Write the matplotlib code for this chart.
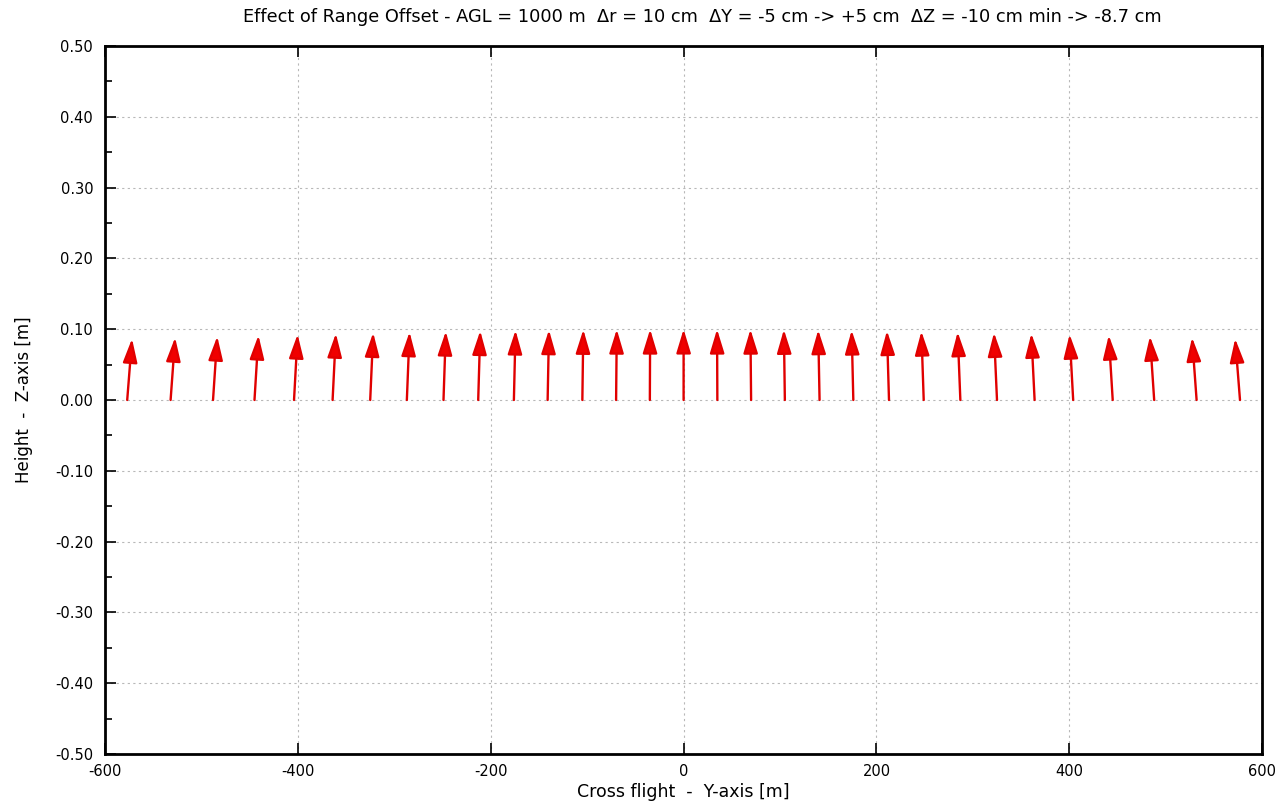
import matplotlib
matplotlib.use("Agg")
import matplotlib.pyplot as plt
from matplotlib.patches import FancyArrowPatch
from matplotlib.ticker import MultipleLocator

plt.rcParams['font.family'] = ['DejaVu Sans']
plt.rcParams['axes.unicode_minus'] = False

# Ground positions of the arrows (cross-flight, m)
y_pos = [-577, -532, -488, -445, -404, -364, -325, -287, -249, -213, -176, -141, -105, -70, -35, 0,
         35, 70, 105, 141, 176, 213, 249, 287, 325, 364, 404, 445, 488, 532, 577]
# Horizontal arrow component (drawn in m on the plot)
arrow_dy = [5.0, 4.7, 4.4, 4.1, 3.7, 3.4, 3.1, 2.8, 2.4, 2.1, 1.7, 1.4, 1.0, 0.7, 0.3, 0.0,
            -0.3, -0.7, -1.0, -1.4, -1.7, -2.1, -2.4, -2.8, -3.1, -3.4, -3.7, -4.1, -4.4, -4.7, -5.0]
# Vertical arrow component (m)
arrow_dz = [0.0866, 0.0883, 0.0899, 0.0914, 0.0927, 0.0940, 0.0951, 0.0961, 0.0970, 0.0978, 0.0985,
            0.0990, 0.0995, 0.0998, 0.0999, 0.1000, 0.0999, 0.0998, 0.0995, 0.0990, 0.0985, 0.0978,
            0.0970, 0.0961, 0.0951, 0.0940, 0.0927, 0.0914, 0.0899, 0.0883, 0.0866]

x_ticks = [-600, -400, -200, 0, 200, 400, 600]
y_ticks = [-0.5, -0.4, -0.3, -0.2, -0.1, 0.0, 0.1, 0.2, 0.3, 0.4, 0.5]

title = ("Effect of Range Offset - AGL = 1000 m  \u0394r = 10 cm  \u0394Y = -5 cm -> +5 cm  "
         "\u0394Z = -10 cm min -> -8.7 cm")

fig = plt.figure(figsize=(12.84, 8.07), dpi=100)
ax = fig.add_axes([0.0818, 0.0657, 0.9012, 0.8773])

ax.set_xlim(-600, 600)
ax.set_ylim(-0.5, 0.5)
ax.set_xticks(x_ticks)
ax.set_yticks(y_ticks)
ax.set_yticklabels([f"{v:.2f}" for v in y_ticks])
ax.yaxis.set_minor_locator(MultipleLocator(0.05))
ax.grid(True, which='major', linestyle=(0, (2, 3)), color='#b8b8b8', linewidth=0.8)
ax.tick_params(axis='both', which='both', direction='in', labelsize=10.5, colors='black')
ax.tick_params(axis='x', which='major', top=True, length=8, width=1.2, pad=7)
ax.tick_params(axis='y', which='major', right=False, length=8, width=1.2, pad=8.5)
ax.tick_params(axis='y', which='minor', right=False, length=5, width=1.2)
for sp in ax.spines.values():
    sp.set_linewidth(2.0)

for x0, dx, dz in zip(y_pos, arrow_dy, arrow_dz):
    arr = FancyArrowPatch((x0, 0.0), (x0 + dx, dz),
                          arrowstyle='-|>,head_length=14.5,head_width=4.4',
                          mutation_scale=1, shrinkA=0, shrinkB=0,
                          facecolor='#f00000', edgecolor='#e00000', linewidth=1.7, zorder=3)
    ax.add_patch(arr)

fig.text(702 / 1284, 1 - 17 / 807, title, fontsize=12.8, ha='center', va='center')
ax.set_xlabel("Cross flight  -  Y-axis [m]", fontsize=12.5, labelpad=3)
ax.set_ylabel("Height  -  Z-axis [m]", fontsize=12, labelpad=16)

fig.savefig("out.png", dpi=100)
